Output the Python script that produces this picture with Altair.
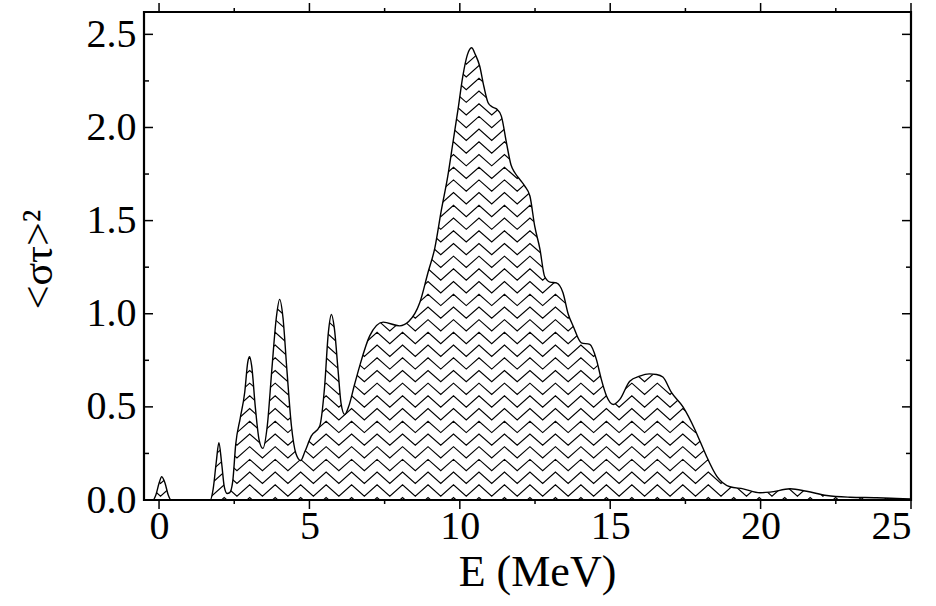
import altair as alt
import pandas as pd
import numpy as np

# ---- data ----
energy = [-0.5, -0.2, -0.1, 0.0, 0.09, 0.2, 0.3, 0.4, 1.7, 1.8, 1.9, 1.99, 2.08, 2.17, 2.26, 2.35,
          2.45, 2.55, 2.7, 2.85, 2.95, 3.01, 3.08, 3.2, 3.33, 3.45, 3.6, 3.75, 3.9, 4.01, 4.12,
          4.25, 4.4, 4.55, 4.71, 4.85, 5.06, 5.34, 5.5, 5.63, 5.73, 5.83, 5.95, 6.05, 6.17, 6.3,
          6.5, 6.67, 7.0, 7.45, 8.0, 8.3, 8.67, 8.94, 9.17, 9.39, 9.6, 9.77, 9.94, 10.1, 10.25,
          10.39, 10.52, 10.66, 10.8, 10.94, 11.08, 11.22, 11.38, 11.55, 11.7, 11.83, 12.0, 12.16,
          12.33, 12.49, 12.66, 12.82, 13.0, 13.21, 13.43, 13.6, 13.77, 14.04, 14.32, 14.54, 14.7,
          14.88, 15.1, 15.32, 15.65, 15.98, 16.3, 16.54, 16.75, 17.04, 17.42, 17.81, 18.0, 18.2,
          18.54, 18.98, 19.42, 19.98, 20.31, 20.98, 21.53, 22.2, 22.97, 23.86, 24.52, 25.0]
strength = [0.0, 0.0, 0.03, 0.09, 0.125, 0.09, 0.03, 0.0, 0.0, 0.06, 0.2, 0.307, 0.2, 0.07, 0.035, 0.04,
            0.1, 0.3, 0.44, 0.58, 0.74, 0.769, 0.72, 0.5, 0.32, 0.277, 0.4, 0.7, 0.98, 1.077, 0.98,
            0.7, 0.4, 0.25, 0.212, 0.26, 0.343, 0.396, 0.6, 0.9, 0.996, 0.92, 0.7, 0.52, 0.459, 0.5,
            0.62, 0.719, 0.88, 0.955, 0.935, 0.958, 1.06, 1.22, 1.354, 1.56, 1.739, 1.918, 2.097, 2.276, 2.39,
            2.428, 2.39, 2.33, 2.22, 2.133, 2.11, 2.1, 2.061, 1.918, 1.8, 1.757, 1.72, 1.685,
            1.632, 1.47, 1.35, 1.2, 1.17, 1.166, 1.113, 1.0, 0.933, 0.844, 0.835, 0.755, 0.65,
            0.557, 0.513, 0.54, 0.638, 0.665, 0.677, 0.674, 0.66, 0.576, 0.5, 0.38, 0.31, 0.235,
            0.128, 0.071, 0.06, 0.039, 0.042, 0.06, 0.047, 0.024, 0.015, 0.012, 0.008, 0.005]

x_major = [0, 5, 10, 15, 20, 25]
x_minor = [2.5, 7.5, 12.5, 17.5, 22.5]
y_major = [0.0, 0.5, 1.0, 1.5, 2.0, 2.5]
y_minor = [0.25, 0.75, 1.25, 1.75, 2.25]

x_title = "E (MeV)"
y_title = "<στ>²"

# ---- layout / style ----
XMIN, XMAX = -0.5, 25.0
YMIN, YMAX = 0.0, 2.62
W, H = 767, 488
FONT = "Liberation Serif"

xs = alt.Scale(domain=[XMIN, XMAX], nice=False, zero=False)
ys = alt.Scale(domain=[YMIN, YMAX], nice=False, zero=False)

xax = alt.Axis(
    values=x_major, ticks=False, domain=False, grid=False, title=x_title,
    labelFont=FONT, labelFontSize=40, labelColor="black", labelPadding=6,
    titleFont=FONT, titleFontSize=44, titleFontWeight="normal", titleColor="black",
    titleX=393, titleY=72, titleAlign="center", titleBaseline="middle")
yax = alt.Axis(
    values=y_major, format=".1f", ticks=False, domain=False, grid=False, title=y_title,
    labelFont=FONT, labelFontSize=40, labelColor="black", labelPadding=8,
    titleFont=FONT, titleFontSize=42, titleFontWeight="normal", titleColor="black",
    titleAngle=270, titleX=-106, titleY=247, titleAlign="center", titleBaseline="middle")

curve = pd.DataFrame({"E": energy, "S": strength})
curve["top"] = YMAX

# zigzag hatch texture (fill style), masked to the area under the curve
period, x0, step, amp, y0 = 0.847, 2.167, 0.0682, 0.0607, 0.0134
hrows = []
m0 = int(np.floor((XMIN - x0) / period)) - 1
m1 = int(np.ceil((XMAX - x0) / period)) + 1
for k in range(int(YMAX / step) + 2):
    yp = y0 + k * step
    for m in range(m0, m1 + 1):
        xp = x0 + m * period
        hrows.append({"row": k, "x": xp, "y": yp, "o": 2 * m})
        hrows.append({"row": k, "x": xp + period / 2, "y": yp - amp, "o": 2 * m + 1})
hatch = pd.DataFrame(hrows)

hatch_layer = alt.Chart(hatch).mark_line(clip=True, color="black", strokeWidth=1.15).encode(
    x=alt.X("x:Q", scale=xs, axis=xax),
    y=alt.Y("y:Q", scale=ys, axis=yax),
    detail="row:N",
    order="o:Q",
)

mask = alt.Chart(curve).mark_area(color="white", interpolate="monotone", clip=True, opacity=1).encode(
    x=alt.X("E:Q", scale=xs, axis=xax),
    y=alt.Y("S:Q", scale=ys, axis=yax),
    y2=alt.Y2("top:Q"),
)

line = alt.Chart(curve).mark_line(color="black", strokeWidth=1.4, interpolate="monotone", clip=True).encode(
    x=alt.X("E:Q", scale=xs, axis=xax),
    y=alt.Y("S:Q", scale=ys, axis=yax),
)

one = pd.DataFrame({"a": [0]})
frame = alt.Chart(one).mark_rect(fillOpacity=0, stroke="black", strokeWidth=2.2).encode(
    x=alt.value(0), x2=alt.value(W), y=alt.value(0), y2=alt.value(H))


def xticks(vals, y_a, y_b):
    return alt.Chart(pd.DataFrame({"E": vals})).mark_rule(color="black", strokeWidth=1.5).encode(
        x=alt.X("E:Q", scale=xs, axis=xax), y=alt.value(y_a), y2=alt.value(y_b))


def yticks(vals, x_a, x_b):
    return alt.Chart(pd.DataFrame({"S": vals})).mark_rule(color="black", strokeWidth=1.5).encode(
        y=alt.Y("S:Q", scale=ys, axis=yax), x=alt.value(x_a), x2=alt.value(x_b))


ticks = [
    xticks(x_major, H, H + 9), xticks(x_minor, H, H + 4),
    xticks(x_major, 0, -9), xticks(x_minor, 0, -4),
    yticks(y_major, 0, 9), yticks(y_minor, 0, 5),
    yticks(y_major, W - 9, W), yticks(y_minor, W - 5, W),
]

chart = alt.layer(hatch_layer, mask, line, frame, *ticks).properties(
    width=W, height=H,
    autosize=alt.AutoSizeParams(type="none"),
    padding={"left": 144, "top": 12, "right": 25, "bottom": 106},
).configure_view(stroke=None).configure(background="white")

chart.save("out.html", embed_options={"renderer": "svg", "actions": False})
